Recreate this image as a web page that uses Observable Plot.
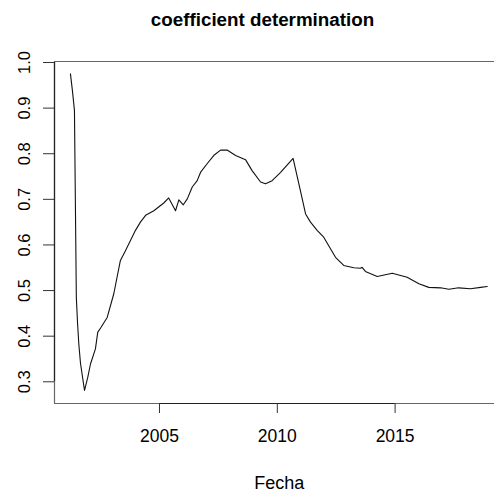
<!DOCTYPE html>
<html><head><meta charset="utf-8">
<script src="https://cdn.jsdelivr.net/npm/d3@7"></script>
<script src="https://cdn.jsdelivr.net/npm/@observablehq/plot@0.6"></script>
<style>body{margin:0;background:#fff} #chart svg{display:block}</style>
</head><body><div id="chart"></div>
<script>
const titleText = "coefficient determination";
const xLabel = "Fecha";
const years = [2001.22, 2001.30, 2001.39, 2001.47, 2001.52, 2001.575, 2001.647, 2001.817, 2001.957, 2002.07, 2002.28, 2002.38, 2002.50, 2002.78, 2003.06, 2003.34, 2003.56, 2003.98, 2004.19, 2004.41, 2004.76, 2005.18, 2005.39, 2005.68, 2005.82, 2006.01, 2006.18, 2006.39, 2006.60, 2006.74, 2007.02, 2007.30, 2007.59, 2007.87, 2008.23, 2008.65, 2008.93, 2009.29, 2009.50, 2009.78, 2010.14, 2010.67, 2010.98, 2011.20, 2011.41, 2011.69, 2011.97, 2012.47, 2012.82, 2013.25, 2013.53, 2013.60, 2013.74, 2014.24, 2014.88, 2015.51, 2016.01, 2016.43, 2016.93, 2017.28, 2017.70, 2018.20, 2018.63, 2018.91];
const r2 = [0.975, 0.94, 0.895, 0.485, 0.43, 0.383, 0.34, 0.281, 0.31, 0.339, 0.372, 0.409, 0.418, 0.441, 0.493, 0.566, 0.588, 0.632, 0.650, 0.665, 0.675, 0.692, 0.703, 0.675, 0.699, 0.688, 0.701, 0.727, 0.741, 0.759, 0.778, 0.796, 0.808, 0.808, 0.796, 0.787, 0.763, 0.738, 0.734, 0.741, 0.759, 0.790, 0.719, 0.668, 0.650, 0.632, 0.617, 0.573, 0.555, 0.550, 0.549, 0.551, 0.542, 0.531, 0.538, 0.529, 0.515, 0.507, 0.506, 0.503, 0.506, 0.504, 0.507, 0.509];
const xTicks = [2005, 2010, 2015];
const yTicks = [0.3, 0.4, 0.5, 0.6, 0.7, 0.8, 0.9, 1.0];

const data = years.map((t, i) => ({t, v: r2[i]}));
const xDom = [2000.543, 2019.219];
const yDom = [0.2524, 1.0022];
const font = "Liberation Sans, Helvetica, Arial, sans-serif";

const chart = Plot.plot({
  width: 494,
  height: 492,
  marginLeft: 54,
  marginRight: 0,
  marginTop: 61,
  marginBottom: 89,
  style: {fontFamily: font, background: "#fff", color: "#000"},
  x: {domain: xDom},
  y: {domain: yDom},
  marks: [
    Plot.ruleY([yDom[0], yDom[1]], {stroke: "#666", strokeWidth: 1.2}),
    Plot.ruleX([xDom[0]], {stroke: "#666", strokeWidth: 1.2}),
    Plot.ruleY([yDom[0]], {x1: xTicks[0], x2: xTicks[xTicks.length - 1], stroke: "#222", strokeWidth: 1.2}),
    Plot.ruleX([xDom[0]], {y1: yTicks[0], y2: yTicks[yTicks.length - 1], stroke: "#222", strokeWidth: 1.2}),
    Plot.axisX({ticks: xTicks, tickFormat: d => String(d), tickSize: 10, tickPadding: 16, fontSize: 17.5, label: null, stroke: "#333"}),
    Plot.axisY({ticks: yTicks, tickFormat: d => d.toFixed(1), tickSize: 11, tickRotate: -90, tickPadding: 14, fontSize: 16.5, label: null, stroke: "#333"}),
    Plot.line(data, {x: "t", y: "v", stroke: "#111", strokeWidth: 1.1}),
    Plot.text([titleText], {frameAnchor: "top", dx: -12, dy: -36, lineAnchor: "bottom", fontWeight: "bold", fontSize: 18.8, fill: "#000"}),
    Plot.text([xLabel], {frameAnchor: "bottom", dx: 4.7, dy: 85, lineAnchor: "bottom", fontSize: 18, fill: "#000"})
  ]
});
document.getElementById("chart").appendChild(chart);
</script>
</body></html>
